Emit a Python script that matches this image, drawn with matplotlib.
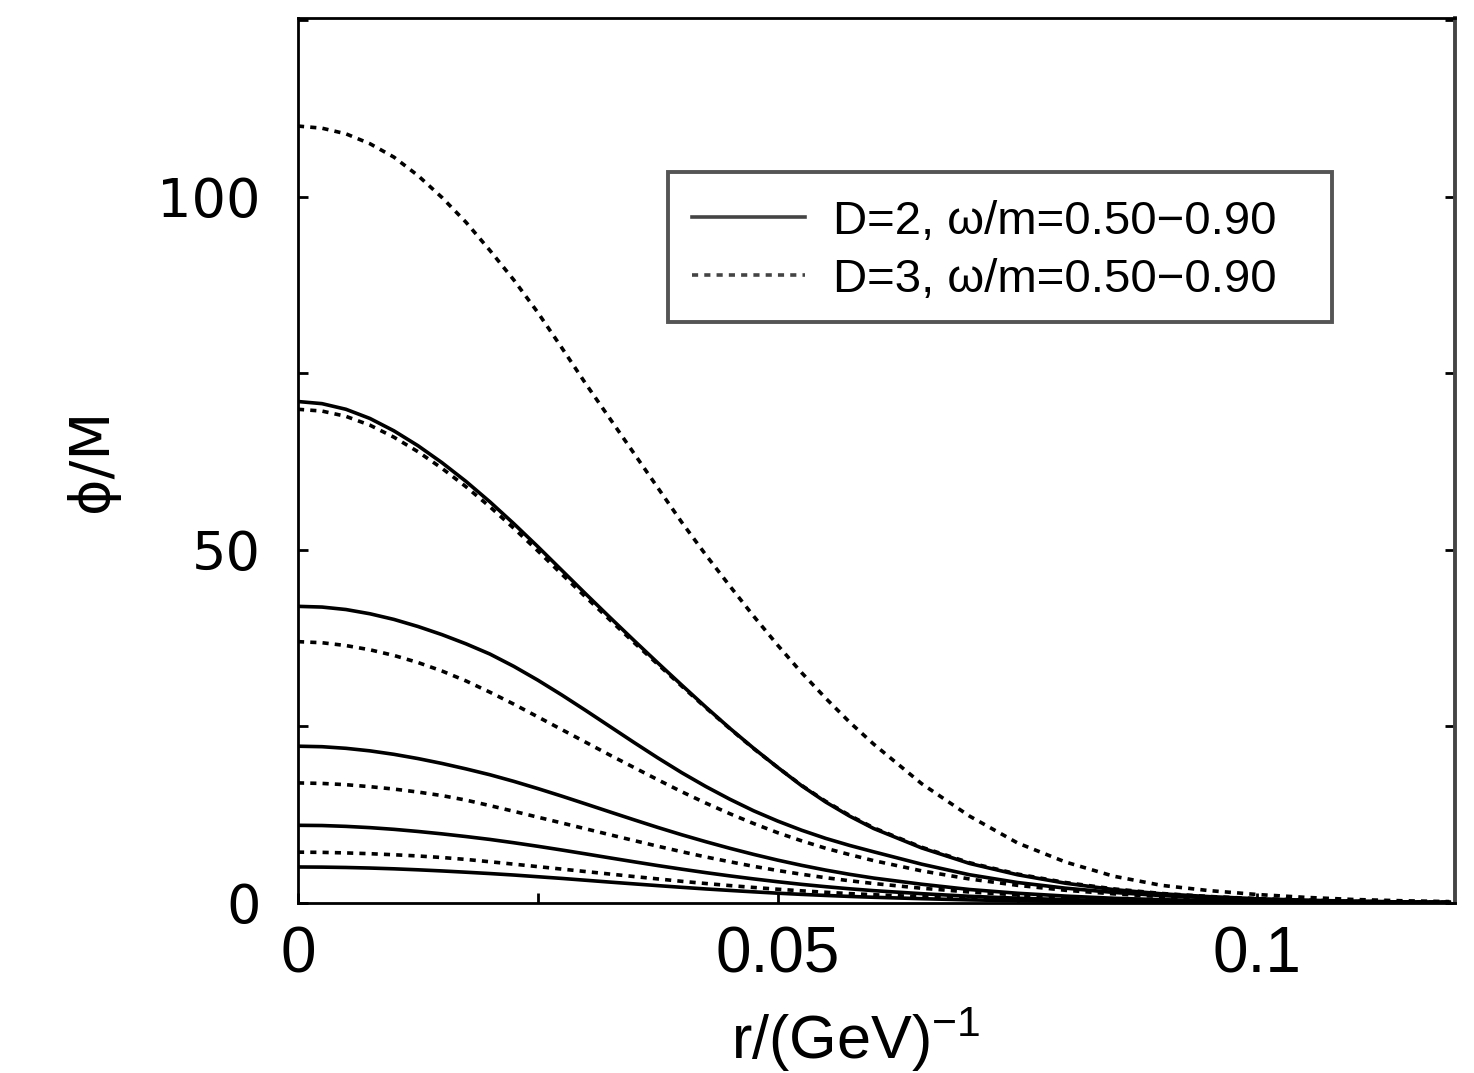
import matplotlib
matplotlib.use("Agg")
import matplotlib.pyplot as plt
from matplotlib.ticker import MultipleLocator
from matplotlib.patches import Rectangle

# radial coordinate r / (GeV)^-1
r_vals = [0.0000, 0.0025, 0.0050, 0.0075, 0.0100, 0.0125, 0.0150, 0.0175,
          0.0200, 0.0225, 0.0250, 0.0275, 0.0300, 0.0325, 0.0350, 0.0375,
          0.0400, 0.0425, 0.0450, 0.0475, 0.0500, 0.0525, 0.0550, 0.0575,
          0.0600, 0.0650, 0.0700, 0.0750, 0.0800, 0.0850, 0.0900, 0.0950,
          0.1000, 0.1050, 0.1100, 0.1150, 0.1200]

# D=2 profiles (phi/M), omega/m = 0.50 ... 0.90
d2_w050 = [71.0, 70.7, 69.9, 68.6, 66.85, 64.75, 62.35, 59.7, 56.8, 53.7, 50.45, 47.1,
           43.75, 40.45, 37.2, 34.0, 30.85, 27.75, 24.75, 21.9, 19.2, 16.6, 14.3, 12.3,
           10.55, 7.8, 5.6, 4.0, 2.8, 1.9, 1.3, 0.9, 0.6, 0.4, 0.25, 0.15, 0.1]
d2_w060 = [42.0, 41.9, 41.55, 40.95, 40.15, 39.15, 38.0, 36.7, 35.25, 33.5, 31.55, 29.45,
           27.25, 25.0, 22.75, 20.55, 18.45, 16.5, 14.7, 13.05, 11.6, 10.3, 9.15, 8.15,
           7.25, 5.5, 4.0, 2.9, 2.1, 1.5, 1.05, 0.73, 0.5, 0.34, 0.23, 0.15, 0.1]
d2_w070 = [22.2, 22.13, 21.9, 21.54, 21.05, 20.45, 19.76, 18.99, 18.16, 17.22, 16.2, 15.13,
           14.02, 12.9, 11.79, 10.7, 9.66, 8.68, 7.75, 6.88, 6.07, 5.33, 4.66, 4.06,
           3.53, 2.66, 1.91, 1.38, 0.98, 0.67, 0.47, 0.33, 0.22, 0.15, 0.1, 0.06, 0.04]
d2_w080 = [11.0, 10.97, 10.85, 10.67, 10.43, 10.13, 9.79, 9.41, 9.0, 8.53, 8.03, 7.5,
           6.95, 6.39, 5.84, 5.3, 4.79, 4.3, 3.84, 3.41, 3.01, 2.64, 2.31, 2.01,
           1.75, 1.32, 0.95, 0.68, 0.48, 0.33, 0.23, 0.17, 0.11, 0.075, 0.05, 0.03, 0.02]
d2_w090 = [5.1, 5.08, 5.03, 4.95, 4.84, 4.7, 4.54, 4.36, 4.17, 3.96, 3.72, 3.48,
           3.22, 2.96, 2.71, 2.46, 2.22, 1.99, 1.78, 1.58, 1.39, 1.22, 1.07, 0.93,
           0.81, 0.61, 0.44, 0.32, 0.22, 0.15, 0.11, 0.08, 0.05, 0.035, 0.022, 0.014, 0.01]

# D=3 profiles (phi/M), omega/m = 0.50 ... 0.90
d3_w050 = [110.0, 109.7, 108.9, 107.5, 105.6, 103.0, 99.9, 96.4, 92.4, 88.2, 83.6, 78.6,
           73.5, 68.6, 63.7, 58.8, 53.9, 49.3, 44.9, 40.6, 36.5, 32.6, 29.0, 25.6,
           22.5, 16.9, 12.3, 8.5, 5.8, 3.8, 2.5, 1.75, 1.2, 0.8, 0.5, 0.32, 0.2]
d3_w060 = [69.9, 69.65, 68.9, 67.65, 65.95, 63.9, 61.55, 58.95, 56.1, 53.05, 49.85, 46.55,
           43.3, 40.1, 36.9, 33.8, 30.7, 27.65, 24.7, 21.85, 19.2, 16.65, 14.4, 12.4,
           10.65, 7.9, 5.7, 4.1, 2.9, 2.0, 1.35, 0.92, 0.62, 0.41, 0.26, 0.16, 0.1]
d3_w070 = [37.0, 36.85, 36.45, 35.85, 35.05, 34.05, 32.85, 31.45, 29.85, 28.15, 26.35, 24.55,
           22.75, 20.95, 19.2, 17.45, 15.75, 14.15, 12.65, 11.25, 9.95, 8.8, 7.75, 6.85,
           6.0, 4.55, 3.4, 2.5, 1.8, 1.3, 0.9, 0.63, 0.44, 0.3, 0.21, 0.14, 0.1]
d3_w080 = [17.0, 16.93, 16.75, 16.47, 16.13, 15.71, 15.21, 14.57, 13.79, 12.98, 12.15, 11.33,
           10.5, 9.67, 8.85, 8.04, 7.26, 6.52, 5.84, 5.19, 4.6, 4.07, 3.58, 3.15,
           2.76, 2.09, 1.56, 1.15, 0.83, 0.6, 0.41, 0.29, 0.2, 0.14, 0.1, 0.064, 0.046]
d3_w090 = [7.2, 7.17, 7.09, 6.98, 6.83, 6.66, 6.44, 6.17, 5.84, 5.5, 5.15, 4.8,
           4.45, 4.1, 3.75, 3.41, 3.07, 2.76, 2.47, 2.2, 1.95, 1.72, 1.52, 1.33,
           1.17, 0.89, 0.66, 0.49, 0.35, 0.25, 0.18, 0.12, 0.086, 0.058, 0.041, 0.027, 0.019]

d2_series = [d2_w050, d2_w060, d2_w070, d2_w080, d2_w090]
d3_series = [d3_w050, d3_w060, d3_w070, d3_w080, d3_w090]

legend_labels = ["D=2, \u03c9/m=0.50\u22120.90", "D=3, \u03c9/m=0.50\u22120.90"]
x_ticks = [0, 0.05, 0.1]
x_tick_labels = ["0", "0.05", "0.1"]
y_ticks = [0, 50, 100]
y_tick_labels = ["0", "50", "100"]

plt.rcParams['mathtext.fontset'] = 'custom'
plt.rcParams['mathtext.rm'] = 'Liberation Sans'
plt.rcParams['mathtext.default'] = 'regular'

W, H = 1474, 1073
fig = plt.figure(figsize=(W / 100, H / 100), dpi=100)
ax = fig.add_axes([298 / W, 1 - 903 / H, (1455 - 298) / W, (903 - 18) / H])

lw = 2.6
dash = (0, (1.7, 1.7))
for i, ys in enumerate(d2_series):
    ax.plot(r_vals, ys, color='black', lw=lw, ls='-',
            label=legend_labels[0] if i == 0 else None, zorder=3)
for i, ys in enumerate(d3_series):
    ax.plot(r_vals, ys, color='black', lw=lw, ls=dash,
            label=legend_labels[1] if i == 0 else None, zorder=3)

ax.set_xlim(0, 0.1206)
ax.set_ylim(0, 125.3)

ax.set_xticks(x_ticks)
ax.set_xticklabels(x_tick_labels, fontfamily='Liberation Sans', fontsize=46)
ax.set_yticks(y_ticks)
ax.set_yticklabels(y_tick_labels, fontfamily='DejaVu Sans', fontsize=39)
ax.xaxis.set_minor_locator(MultipleLocator(0.025))
ax.yaxis.set_minor_locator(MultipleLocator(25))
ax.tick_params(which='both', direction='in', length=7, width=2,
               top=False, right=True, color='black')
ax.tick_params(axis='x', which='major', pad=16)
ax.tick_params(axis='y', which='major', pad=27)

for side in ['left', 'bottom', 'top']:
    ax.spines[side].set_linewidth(2)
    ax.spines[side].set_color('black')
ax.spines['right'].set_linewidth(2.8)
ax.spines['right'].set_color('#444444')

ax.set_xlabel(r'r/(GeV)$^{-1}$', fontfamily='Liberation Sans', fontsize=44)
ax.xaxis.set_label_coords(0.482, -0.116)
ax.set_ylabel('\u03d5/M', fontfamily='DejaVu Sans', fontsize=40, labelpad=27)

leg = ax.legend(loc='upper left', bbox_to_anchor=(668 / W, 1 - 176 / H),
                bbox_transform=fig.transFigure, borderaxespad=0,
                prop={'family': 'Liberation Sans', 'size': 34},
                handlelength=2.4, handletextpad=0.6, borderpad=0.5,
                labelspacing=0.3, frameon=False)
for h in leg.get_lines():
    h.set_color('#444444')

frame = Rectangle((668 / W, 1 - 322 / H), (1332 - 668) / W, (322 - 172) / H,
                  transform=fig.transFigure, facecolor='white', edgecolor='#555555',
                  lw=2.8, zorder=4)
fig.add_artist(frame)
leg.set_zorder(5)
fig.add_artist(leg)

fig.savefig('out.png', dpi=100)
